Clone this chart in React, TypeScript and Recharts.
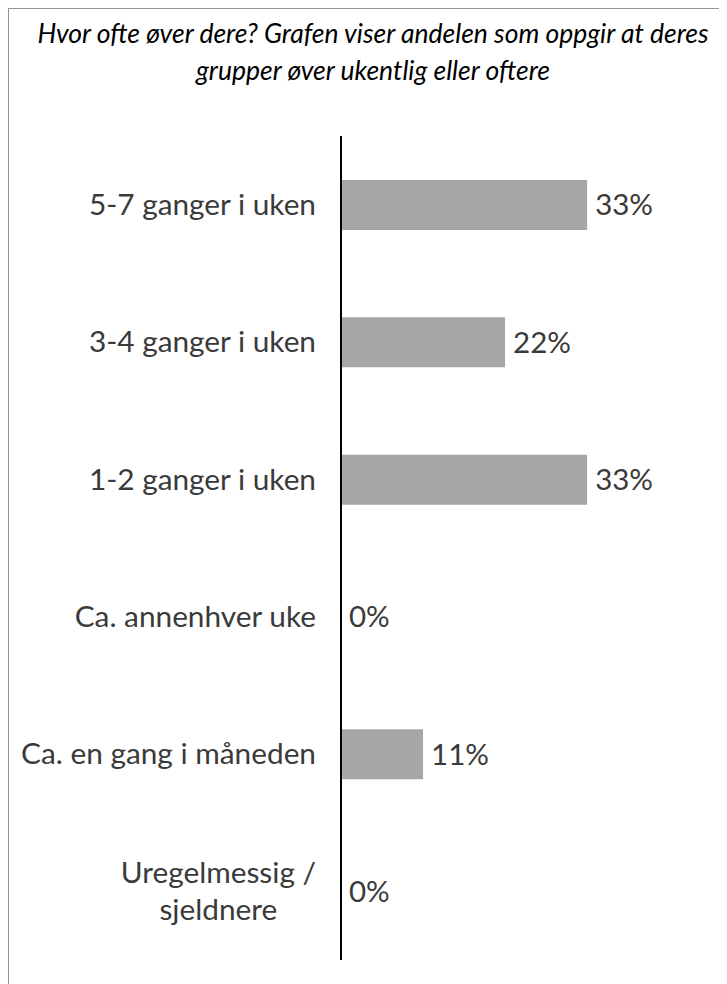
import React from "react";
import { BarChart, Bar, XAxis, YAxis, LabelList } from "recharts";

const categories = [
  "5-7 ganger i uken",
  "3-4 ganger i uken",
  "1-2 ganger i uken",
  "Ca. annenhver uke",
  "Ca. en gang i måneden",
  "Uregelmessig / sjeldnere",
];
const shares = [33, 22, 33, 0, 11, 0];
const titleLines = [
  "Hvor ofte øver dere? Grafen viser andelen som oppgir at deres",
  "grupper øver ukentlig eller oftere",
];
const wrappedLabels: Record<string, string[]> = {
  "Uregelmessig / sjeldnere": ["Uregelmessig /", "sjeldnere"],
};

// a thin invisible segment stacked after each bar, used only to anchor the value labels
const data = categories.map((c, i) => ({ name: c, value: shares[i], anchor: 1 }));

const FONT = "Lato, 'Open Sans', sans-serif";
const TICK_SIZE = 29.8;
const TEXT_COLOR = "#3a3a3a";

let ctx: CanvasRenderingContext2D | null = null;
function measure(t: string) {
  if (!ctx) {
    const c = document.createElement("canvas");
    ctx = c.getContext("2d");
  }
  if (!ctx) return t.length * 13;
  ctx.font = `${TICK_SIZE}px Lato`;
  return ctx.measureText(t).width;
}

const Tick = (props: any) => {
  const { x, y, payload } = props;
  const lines = wrappedLabels[payload.value] || [payload.value];
  if (lines.length === 1) {
    return (
      <text x={x} y={y} dy="0.35em" textAnchor="end" fill={TEXT_COLOR} fontSize={TICK_SIZE} fontFamily={FONT}>
        {payload.value}
      </text>
    );
  }
  const w = Math.max(...lines.map(measure));
  const cx = x - w / 2;
  const lh = 37;
  const start = y - ((lines.length - 1) * lh) / 2;
  return (
    <g>
      {lines.map((l, i) => (
        <text key={i} x={cx} y={start + i * lh} dy="0.35em" textAnchor="middle" fill={TEXT_COLOR} fontSize={TICK_SIZE} fontFamily={FONT}>
          {l}
        </text>
      ))}
    </g>
  );
};

export default function App() {
  return (
    <div
      style={{
        position: "relative",
        width: 719,
        height: 976,
        borderTop: "1px solid #8a96a0",
        borderLeft: "1px solid #8a96a0",
        boxSizing: "border-box",
        background: "#fff",
      }}
    >
      <div
        style={{
          position: "absolute",
          top: 6,
          left: 5,
          width: 718,
          textAlign: "center",
          fontFamily: FONT,
          fontStyle: "italic",
          fontSize: 26.5,
          lineHeight: "37px",
          color: "#000",
          whiteSpace: "nowrap",
        }}
      >
        {titleLines.map((t, i) => (
          <div key={i}>{t}</div>
        ))}
      </div>
      <div style={{ position: "absolute", top: 0, left: 0 }}>
        <BarChart
          width={718}
          height={975}
          data={data}
          layout="vertical"
          margin={{ top: 127, right: 28, bottom: 24, left: 0 }}
        >
          <XAxis type="number" domain={[0, 48]} hide />
          <YAxis
            type="category"
            dataKey="name"
            width={332}
            axisLine={{ stroke: "#000", strokeWidth: 2 }}
            tickLine={false}
            tickMargin={19}
            tick={<Tick />}
            interval={0}
          />
          <Bar dataKey="value" stackId="s" fill="#a6a6a6" barSize={50} isAnimationActive={false} />
          <Bar dataKey="anchor" stackId="s" fill="transparent" barSize={50} isAnimationActive={false}>
            <LabelList
              position="insideLeft"
              offset={8}
              valueAccessor={(entry: any) => `${entry.payload.value}%`}
              fill={TEXT_COLOR}
              fontSize={29.5}
              fontFamily={FONT}
            />
          </Bar>
        </BarChart>
      </div>
    </div>
  );
}
